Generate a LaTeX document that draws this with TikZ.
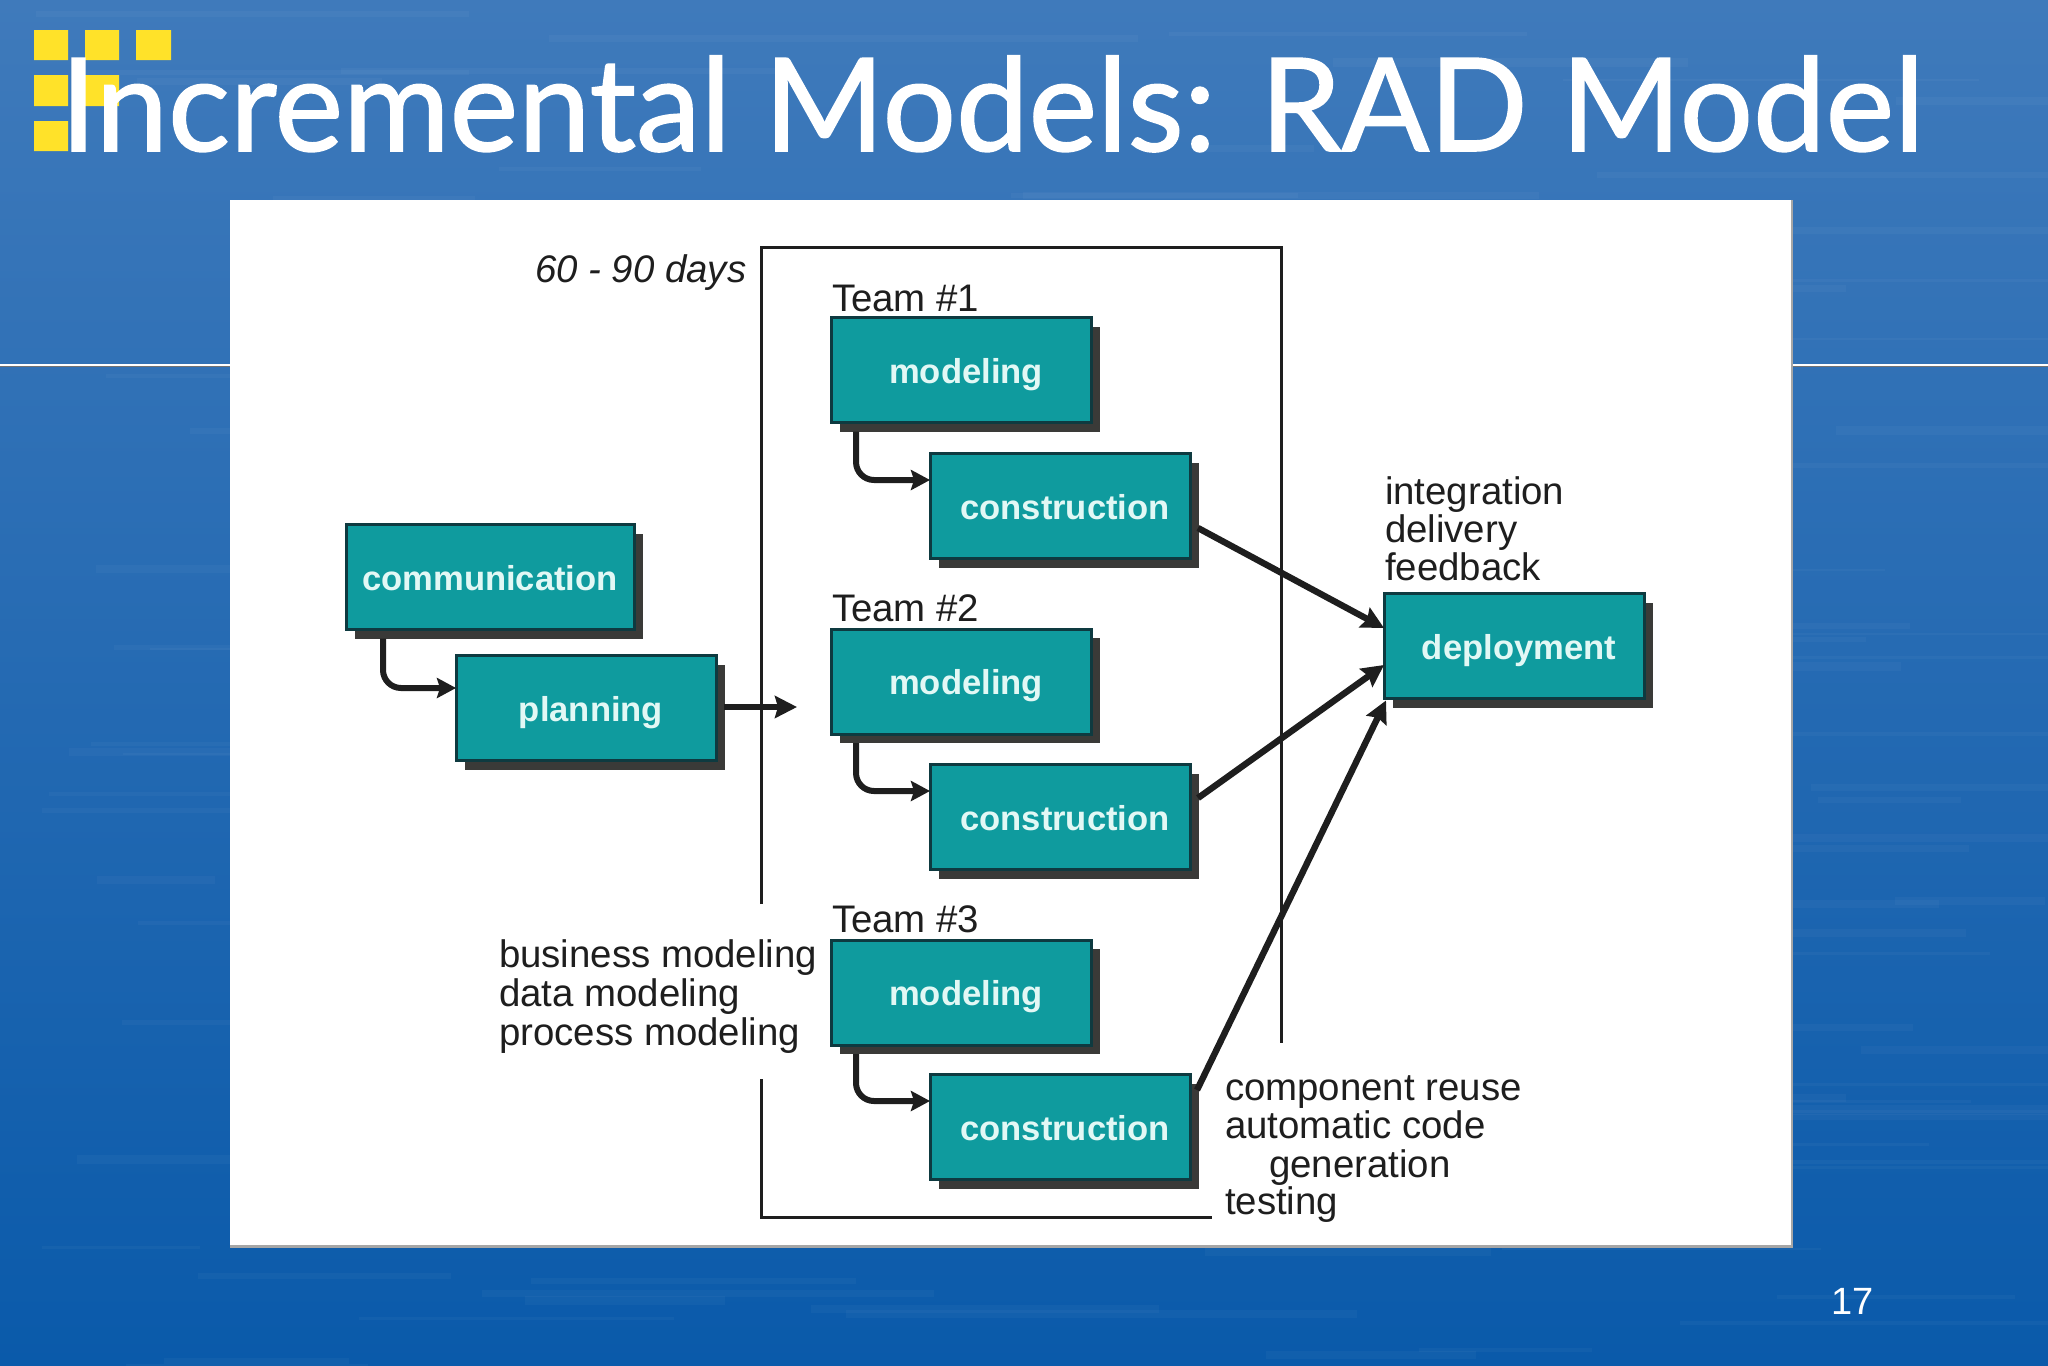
\documentclass[tikz,border=0pt]{standalone}
\usepackage{fontspec}
\setmainfont{Liberation Sans}
\newfontfamily\titlefont{Lato}[FakeBold=1.2]
\usetikzlibrary{arrows.meta,calc,shadows}
\definecolor{tealbox}{HTML}{0F9B9E}
\definecolor{tealedge}{HTML}{0E3A40}
\definecolor{boxshadow}{HTML}{3A3A38}
\definecolor{boxtext}{HTML}{E2F8F5}
\definecolor{ink}{HTML}{1E1E1E}
\definecolor{bgtop}{HTML}{3F7ABB}
\definecolor{bgbot}{HTML}{0A5AAA}
\definecolor{logoyellow}{HTML}{FFE229}
\begin{document}
\begin{tikzpicture}[x=0.5pt,y=-0.5pt,
    box/.style={draw=tealedge, line width=1.5pt, fill=tealbox, outer sep=0pt,
      minimum width=130pt, minimum height=52.5pt, inner sep=0pt,
      text=boxtext, font=\bfseries\fontsize{17.3}{20}\selectfont,
      text height=13pt, text depth=0pt,
      drop shadow={shadow xshift=4.5pt, shadow yshift=-4.5pt, fill=boxshadow, opacity=1}},
    nudge/.style={execute at begin node={\hspace{5pt}}},
    lbl/.style={text=ink, inner sep=0pt, outer sep=0pt, align=left,
      font=\fontsize{19.2}{19.5}\selectfont},
    frame/.style={draw=ink, line width=1.5pt},
    elbow/.style={draw=ink, line width=3pt, rounded corners=9pt,
      -{Stealth[length=9.5pt,width=10pt,inset=1.5pt]}},
    flow/.style={draw=ink, line width=3.2pt,
      -{Stealth[length=11pt,width=11pt,inset=1.5pt]}}]
  \useasboundingbox (0,0) rectangle (2048,1365);

  % slide background
  \shade[top color=bgtop, bottom color=bgbot] (0,0) rectangle (2048,1365);
  \pgfmathsetseed{17}
  \foreach \i in {1,...,140}{
    \pgfmathsetmacro{\sy}{rnd*1365}
    \pgfmathsetmacro{\sx}{rnd*1900}
    \pgfmathsetmacro{\sw}{100+rnd*500}
    \pgfmathsetmacro{\sh}{2+rnd*7}
    \fill[white, opacity=0.03] (\sx,\sy) rectangle ++(\sw,\sh);
  }
  \fill[white] (0,364) rectangle (2048,366);
  \fill[black!55] (0,366) rectangle (2048,367);
  \fill[logoyellow] (34,30) rectangle (68,60) (85,30) rectangle (119,60)
    (136,30) rectangle (171,60) (34,75) rectangle (68,106)
    (85,75) rectangle (119,106) (34,121) rectangle (68,151);
  \node (title) [anchor=base west, inner sep=0pt, text=white,
    font=\titlefont\fontsize{64.8}{70}\selectfont] at (60,151) {Incremental Models: RAD Model};
  \node (pageno) [anchor=base west, inner sep=0pt, text=white,
    font=\fontsize{19}{22}\selectfont] at (1831,1314) {17};

  % white panel
  \fill[black!35] (230,200) rectangle (1793,1248);
  \fill[white] (230,200) rectangle (1791,1245);

  % 60-90 day frame
  \coordinate (fa) at (761,904);
  \coordinate (fb) at (761,247);
  \coordinate (fc) at (1281,247);
  \coordinate (fd) at (1281,1043);
  \coordinate (fe) at (761,1079);
  \coordinate (ff) at (761,1217);
  \coordinate (fg) at (1212,1217);
  \draw[frame] (fa) -- (fb) -- (fc) -- (fd);
  \draw[frame] (fe) -- (ff) -- (fg);

  % boxes
  \node (comm) [box, minimum width=144pt] at (490,577) {communication};
  \node (plan) [box, nudge] at (586,708) {planning};
  \node (mod1) [box, nudge] at (961,370) {modeling};
  \node (con1) [box, nudge] at (1060,506) {construction};
  \node (mod2) [box, nudge] at (961,681.5) {modeling};
  \node (con2) [box, nudge] at (1060,817) {construction};
  \node (mod3) [box, nudge] at (961,992.5) {modeling};
  \node (con3) [box, nudge] at (1060,1127) {construction};
  \node (depl) [box, nudge] at (1514,646) {deployment};

  % labels
  \node (days) [lbl, anchor=base west, font=\itshape\fontsize{19.2}{19.5}\selectfont] at (535,282) {60 - 90 days};
  \node (t1) [lbl, anchor=base west] at (832,311) {Team \#1};
  \node (t2) [lbl, anchor=base west] at (832,621) {Team \#2};
  \node (t3) [lbl, anchor=base west] at (832,932) {Team \#3};
  \node (l1a) [lbl, anchor=base west] at (499,967) {business modeling};
  \node (l1b) [lbl, anchor=base west] at (499,1006) {data modeling};
  \node (l1c) [lbl, anchor=base west] at (499,1045) {process modeling};
  \node (l2a) [lbl, anchor=base west] at (1385,504) {integration};
  \node (l2b) [lbl, anchor=base west] at (1385,542) {delivery};
  \node (l2c) [lbl, anchor=base west] at (1385,580) {feedback};
  \node (l3a) [lbl, anchor=base west] at (1225,1100) {component reuse};
  \node (l3b) [lbl, anchor=base west] at (1225,1138) {automatic code};
  \node (l3c) [lbl, anchor=base west] at (1269,1177) {generation};
  \node (l3d) [lbl, anchor=base west] at (1225,1214) {testing};

  % connectors
  \draw[elbow] ($(comm.south west)+(37,9)$) |- ($(plan.west)+(0,-20)$);
  \draw[elbow] ($(mod1.south west)+(25,9)$) |- ($(con1.west)+(0,-26)$);
  \draw[elbow] ($(mod2.south west)+(25,9)$) |- ($(con2.west)+(0,-26)$);
  \draw[elbow] ($(mod3.south west)+(25,9)$) |- ($(con3.west)+(0,-26)$);
  \coordinate (entry) at (797,707);
  \draw[flow] ($(plan.east)+(8,-1)$) -- (entry);
  \draw[flow] ($(con1.east)+(8,22)$) -- ($(depl.west)+(0,-18)$);
  \draw[flow] ($(con2.east)+(8,-19)$) -- ($(depl.west)+(0,19)$);
  \draw[flow] ($(con3.east)+(7,-37)$) -- ($(depl.south west)+(2,2)$);
\end{tikzpicture}
\end{document}
